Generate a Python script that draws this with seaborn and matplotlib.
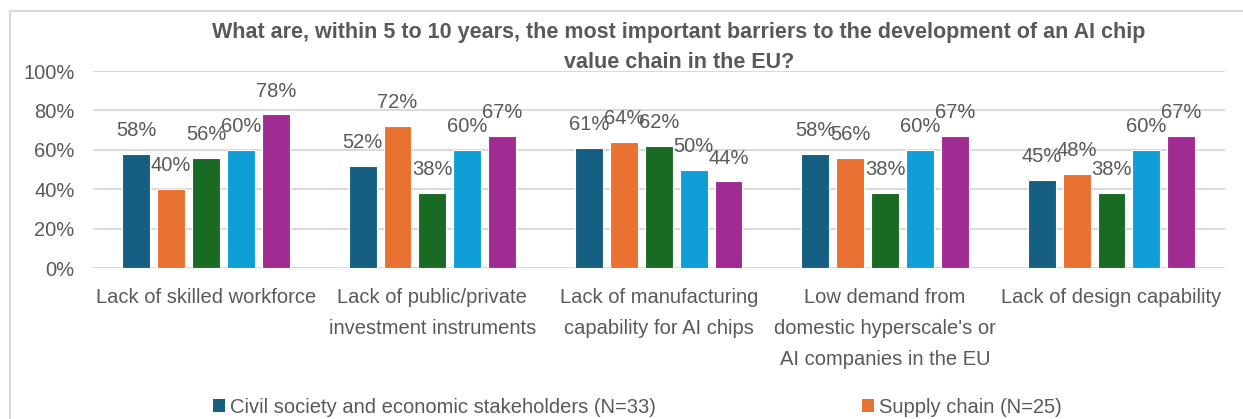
import matplotlib
matplotlib.use("Agg")
import matplotlib.pyplot as plt
import pandas as pd
import seaborn as sns
from matplotlib.patches import Patch, Rectangle

# Survey question: barriers to an EU AI chip value chain (share of respondents, %)
categories = [
    "Lack of skilled workforce",
    "Lack of public/private\ninvestment instruments",
    "Lack of manufacturing\ncapability for AI chips",
    "Low demand from\ndomestic hyperscale's or\nAI companies in the EU",
    "Lack of design capability",
]
groups = [
    "Civil society and economic stakeholders (N=33)",
    "Supply chain (N=25)",
    "Respondent group 3",
    "Respondent group 4",
    "Respondent group 5",
]
civil_society = [58, 52, 61, 58, 45]
supply_chain = [40, 72, 64, 56, 48]
group_3 = [56, 38, 62, 38, 38]
group_4 = [60, 60, 50, 60, 60]
group_5 = [78, 67, 44, 67, 67]
y_ticks = [0, 20, 40, 60, 80, 100]

title = ("What are, within 5 to 10 years, the most important barriers to the development of an AI chip\n"
         "value chain in the EU?")

palette = ["#156082", "#E97132", "#196B24", "#0F9ED5", "#A02B93"]
text_color = "#595959"
grid_color = "#D9D9D9"

series = [civil_society, supply_chain, group_3, group_4, group_5]
df = pd.DataFrame(
    [(cat, grp, val) for grp, vals in zip(groups, series) for cat, val in zip(categories, vals)],
    columns=["barrier", "group", "share"],
)

sns.set_theme(style="white")
plt.rcParams["font.family"] = ["Liberation Sans", "DejaVu Sans"]

W, H = 1243, 419
fig = plt.figure(figsize=(W / 100, H / 100), dpi=100)
fig.patch.set_facecolor("white")

ax = fig.add_axes([92.8 / W, 1 - 268.3 / H, (1224.7 - 92.8) / W, (268.3 - 71) / H])
sns.barplot(
    data=df, x="barrier", y="share", hue="group",
    order=categories, hue_order=groups, palette=palette, saturation=1,
    width=0.77, gap=0.2, edgecolor="white", linewidth=0.8,
    legend=False, ax=ax,
)

fs = 14.5
for cont in ax.containers:
    ax.bar_label(cont, fmt="{:.0f}%", padding=10, fontsize=fs, color=text_color)

ax.set_xlim(-0.5, len(categories) - 0.5)
ax.set_ylim(0, 100)
ax.set_yticks(y_ticks)
ax.set_yticklabels([f"{t}%" for t in y_ticks])
ax.set_xlabel("")
ax.set_ylabel("")
ax.yaxis.grid(True, color=grid_color, linewidth=1.4)
ax.set_axisbelow(True)
for s in ax.spines.values():
    s.set_visible(False)
ax.tick_params(axis="y", length=0, pad=13, labelsize=fs, labelcolor=text_color)
ax.tick_params(axis="x", length=0, pad=14, labelsize=fs, labelcolor=text_color)
for lbl in ax.get_xticklabels():
    lbl.set_linespacing(1.8)

fig.text(679 / W, 1 - 47.5 / H, title, ha="center", va="center", fontsize=15.5,
         fontweight="bold", color=text_color, linespacing=1.55)

legend_x = [213, 862]
for i, x in enumerate(legend_x):
    fig.legend(
        handles=[Patch(facecolor=palette[i], edgecolor="none")], labels=[groups[i]],
        loc="center left", bbox_to_anchor=(x / W, 1 - 407 / H), frameon=False,
        fontsize=fs, labelcolor=text_color, handlelength=0.6, handleheight=0.65,
        handletextpad=0.25, borderpad=0, borderaxespad=0,
    )

fig.add_artist(Rectangle((10 / W, -0.1), 2.0, 1.1 - 11 / H, transform=fig.transFigure,
                         fill=False, edgecolor=grid_color, linewidth=1.5))

fig.savefig("out.png", dpi=100, facecolor="white")
